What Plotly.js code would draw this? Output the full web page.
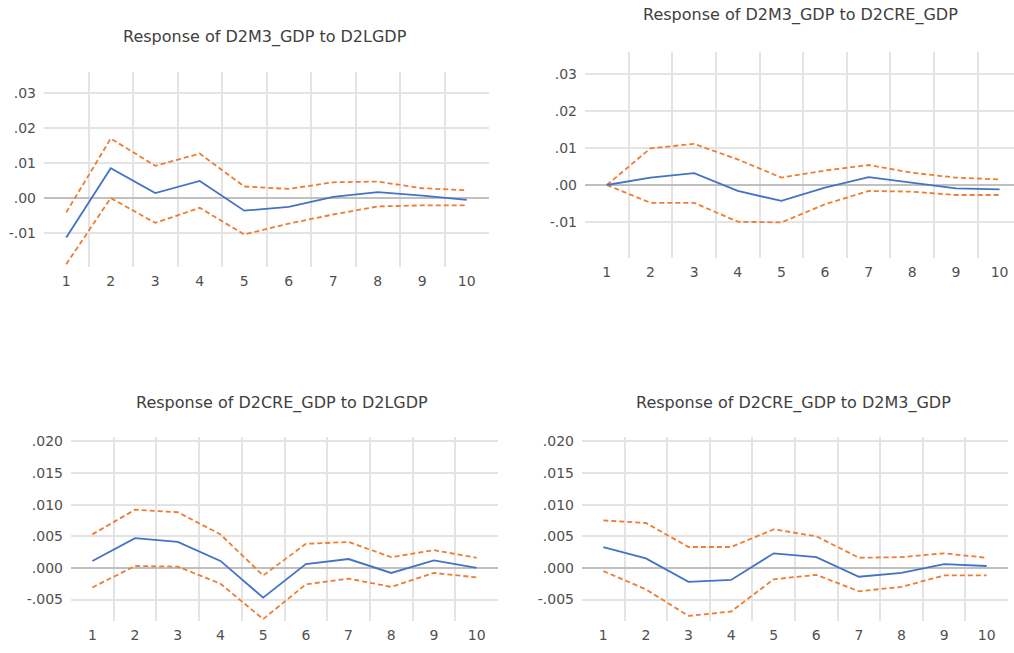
<!DOCTYPE html>
<html>
<head>
<meta charset="utf-8">
<script src="https://cdn.plot.ly/plotly-3.0.1.min.js"></script>
<style>
html,body{margin:0;padding:0;background:#fff;overflow:hidden;}
#chart{width:1014px;height:653px;}
</style>
</head>
<body>
<div id="chart"></div>
<script>
// Periods
const periods = [1,2,3,4,5,6,7,8,9,10];
const periodLabels = ["1","2","3","4","5","6","7","8","9","10"];

// Panel titles
const titles = [
  "Response of D2M3_GDP to D2LGDP",
  "Response of D2M3_GDP to D2CRE_GDP",
  "Response of D2CRE_GDP to D2LGDP",
  "Response of D2CRE_GDP to D2M3_GDP"
];

// Panel 1: D2M3_GDP to D2LGDP
const p1Resp  = [-0.0113, 0.0085, 0.0014, 0.0049, -0.0036, -0.0025, 0.0003, 0.0017, 0.0007, -0.0005];
const p1Upper = [-0.0041, 0.0170, 0.0092, 0.0127, 0.0033, 0.0026, 0.0045, 0.0047, 0.0028, 0.0022];
const p1Lower = [-0.0189, 0.0000, -0.0071, -0.0028, -0.0104, -0.0073, -0.0047, -0.0024, -0.0021, -0.0021];

// Panel 2: D2M3_GDP to D2CRE_GDP
const p2Resp  = [0.0000, 0.0020, 0.0032, -0.0016, -0.0043, -0.0007, 0.0021, 0.0006, -0.0009, -0.0012];
const p2Upper = [0.0000, 0.0099, 0.0111, 0.0069, 0.0020, 0.0039, 0.0054, 0.0033, 0.0020, 0.0015];
const p2Lower = [0.0000, -0.0048, -0.0048, -0.0099, -0.0101, -0.0052, -0.0016, -0.0018, -0.0027, -0.0027];

// Panel 3: D2CRE_GDP to D2LGDP
const p3Resp  = [0.0011, 0.0047, 0.0041, 0.0011, -0.0047, 0.0006, 0.0014, -0.0008, 0.0012, 0.0000];
const p3Upper = [0.0053, 0.0092, 0.0088, 0.0053, -0.0012, 0.0038, 0.0041, 0.0017, 0.0028, 0.0016];
const p3Lower = [-0.0031, 0.0003, 0.0002, -0.0025, -0.0081, -0.0026, -0.0017, -0.0030, -0.0008, -0.0015];

// Panel 4: D2CRE_GDP to D2M3_GDP
const p4Resp  = [0.0033, 0.0015, -0.0022, -0.0019, 0.0023, 0.0017, -0.0014, -0.0008, 0.0006, 0.0003];
const p4Upper = [0.0075, 0.0071, 0.0033, 0.0033, 0.0061, 0.0050, 0.0016, 0.0017, 0.0023, 0.0016];
const p4Lower = [-0.0005, -0.0034, -0.0076, -0.0069, -0.0018, -0.0011, -0.0037, -0.0030, -0.0012, -0.0012];

// Y tick values/labels
const topTickVals = [-0.01, 0, 0.01, 0.02, 0.03];
const topTickText = ["-.01", ".00", ".01", ".02", ".03"];
const botTickVals = [-0.005, 0, 0.005, 0.010, 0.015, 0.020];
const botTickText = ["-.005", ".000", ".005", ".010", ".015", ".020"];
const boundaryVals = [1.5,2.5,3.5,4.5,5.5,6.5,7.5,8.5,9.5];

const BLUE = "#4472C4", ORANGE = "#ED7D31";
const FONT = "DejaVu Sans, sans-serif";
const TXT = "#404040";
const TICKTXT = "#505050";

const panels = [
  {resp:p1Resp, up:p1Upper, lo:p1Lower},
  {resp:p2Resp, up:p2Upper, lo:p2Lower},
  {resp:p3Resp, up:p3Upper, lo:p3Lower},
  {resp:p4Resp, up:p4Upper, lo:p4Lower}
];

const traces = [];
panels.forEach((p, i) => {
  const xa = i === 0 ? "x" : "x" + (i + 1);
  const ya = i === 0 ? "y" : "y" + (i + 1);
  traces.push({x:periods, y:p.up, xaxis:xa, yaxis:ya, mode:"lines", type:"scatter",
    line:{color:ORANGE, width:1.8, dash:"5px,3px"}, hoverinfo:"skip"});
  traces.push({x:periods, y:p.lo, xaxis:xa, yaxis:ya, mode:"lines", type:"scatter",
    line:{color:ORANGE, width:1.8, dash:"5px,3px"}, hoverinfo:"skip"});
  traces.push({x:periods, y:p.resp, xaxis:xa, yaxis:ya, mode:"lines", type:"scatter",
    line:{color:BLUE, width:1.8}, hoverinfo:"skip"});
});

function xAxis(domain, range, anchor) {
  return {
    domain: domain, range: range, anchor: anchor,
    tickmode: "array", tickvals: periods, ticktext: periodLabels,
    showgrid: false, zeroline: false, showline: false, ticks: "",
    ticklabelstandoff: 4,
    tickfont: {family: FONT, size: 14, color: TICKTXT},
    minor: {tickmode: "array", tickvals: boundaryVals, showgrid: true,
            gridcolor: "#e4e4e4", gridwidth: 2, ticks: ""},
    fixedrange: true
  };
}
function yAxis(domain, range, anchor, tv, tt) {
  return {
    domain: domain, range: range, anchor: anchor,
    tickmode: "array", tickvals: tv, ticktext: tt,
    showgrid: true, gridcolor: "#e4e4e4", gridwidth: 2,
    zeroline: true, zerolinecolor: "#c0c0c0", zerolinewidth: 1.5,
    showline: false, ticks: "", ticklabelstandoff: 7,
    tickfont: {family: FONT, size: 14, color: TICKTXT},
    fixedrange: true
  };
}

const W = 1014, H = 653;
const dx = (a, b) => [a / W, b / W];
const dy = (top, bot) => [1 - bot / H, 1 - top / H];

const layout = {
  width: W, height: H,
  margin: {l:0, r:0, t:0, b:0},
  paper_bgcolor: "#ffffff", plot_bgcolor: "#ffffff",
  showlegend: false,
  font: {family: FONT, color: TXT},
  xaxis:  xAxis(dx(44, 489), [0.5, 10.5], "y"),
  yaxis:  yAxis(dy(72, 267), [-0.0197, 0.0360], "x", topTickVals, topTickText),
  xaxis2: xAxis(dx(585, 1014), [0.5, 10.33], "y2"),
  yaxis2: yAxis(dy(52, 258), [-0.0197, 0.0359], "x2", topTickVals, topTickText),
  xaxis3: xAxis(dx(71, 498), [0.5, 10.5], "y3"),
  yaxis3: yAxis(dy(437, 621), [-0.0084, 0.0207], "x3", botTickVals, botTickText),
  xaxis4: xAxis(dx(582, 1008), [0.5, 10.5], "y4"),
  yaxis4: yAxis(dy(437, 621), [-0.0084, 0.0207], "x4", botTickVals, botTickText),
  annotations: [
    {text: titles[0], x: 265 / W, y: 1 - 37 / H},
    {text: titles[1], x: 800 / W, y: 1 - 15 / H},
    {text: titles[2], x: 282 / W, y: 1 - 403 / H},
    {text: titles[3], x: 793 / W, y: 1 - 403 / H}
  ].map(a => Object.assign(a, {xref:"paper", yref:"paper", showarrow:false,
      xanchor:"center", yanchor:"middle", font:{family: FONT, size: 16, color: TXT}}))
};

Plotly.newPlot("chart", traces, layout, {displayModeBar:false, staticPlot:true});
</script>
</body>
</html>
